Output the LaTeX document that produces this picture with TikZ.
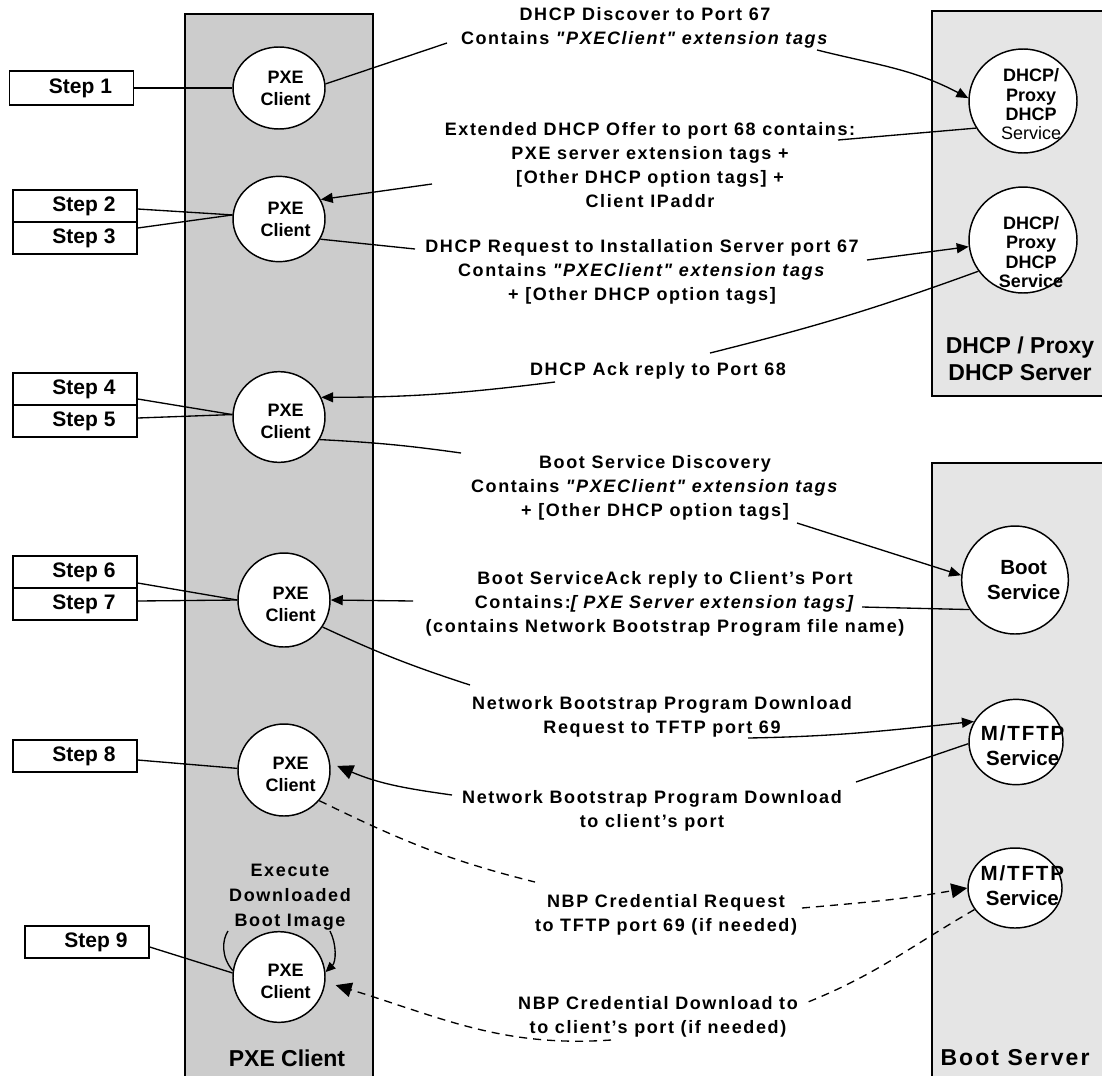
\documentclass[tikz,border=0pt]{standalone}
\usepackage{fontspec}
\setmainfont{Liberation Sans}
\newfontfamily\spacedsans{Liberation Sans}[LetterSpace=9]
\usetikzlibrary{arrows.meta,shapes.geometric}

\definecolor{lanegray}{gray}{0.8}
\definecolor{servergray}{gray}{0.9}

\begin{document}
\begin{tikzpicture}[x=0.75pt,y=-0.75pt,
  lane/.style={draw=black,line width=1.5pt},
  stepbox/.style={draw,line width=1.1pt,minimum width=93pt,minimum height=24pt,inner sep=0pt,
    font=\bfseries\fontsize{15.75}{18}\selectfont},
  station/.style={ellipse,draw,line width=1.1pt,fill=white,inner sep=0pt},
  stationtext/.style={font=\bfseries\fontsize{13.5}{16.5}\selectfont,align=center,inner sep=0pt},
  servicetext/.style={font=\bfseries\fontsize{15.4}{18.75}\selectfont,align=center,inner sep=0pt},
  msg/.style={font=\spacedsans\bfseries\fontsize{13.5}{18}\selectfont,align=center,inner sep=0pt},
  serverlabel/.style={font=\bfseries\fontsize{17.25}{20.25}\selectfont,align=center,inner sep=0pt},
  wire/.style={line width=1pt},
  arr/.style={wire,-{Triangle[length=9pt,width=7.5pt]}},
  bigarr/.style={wire,-{Triangle[length=12pt,width=11pt]}},
  dashwire/.style={wire,dash pattern=on 6pt off 4.5pt},
]
\useasboundingbox (0,0) rectangle (1102,1075);
\fill[white] (0,0) rectangle (1102,1075);

% swim lanes
\begin{scope}
  \clip (0,0) rectangle (1102,1075);
  \draw[lane,fill=lanegray] (185,14) rectangle (373,1090);
  \draw[lane,fill=servergray] (932,11) rectangle (1115,396);
  \draw[lane,fill=servergray] (932,463) rectangle (1115,1090);
\end{scope}

\node[serverlabel] (dhcpsrv) at (1020,358.5) {DHCP / Proxy\\DHCP Server};
\node[serverlabel,font=\spacedsans\bfseries\fontsize{17.25}{20.25}\selectfont] (bootsrv) at (1015,1058) {Boot Server};
\node[serverlabel] (pxesrv) at (287,1058) {PXE Client};

% step boxes
\node[stepbox,minimum height=25.5pt] (s1) at (71.5,88) {\hspace*{13.5pt}Step 1};
\node[stepbox] (s2) at (75,206) {\hspace*{13.5pt}Step 2};
\node[stepbox] (s3) at (75,238) {\hspace*{13.5pt}Step 3};
\node[stepbox] (s4) at (75,389) {\hspace*{13.5pt}Step 4};
\node[stepbox] (s5) at (75,421) {\hspace*{13.5pt}Step 5};
\node[stepbox] (s6) at (75,572) {\hspace*{13.5pt}Step 6};
\node[stepbox] (s7) at (75,604) {\hspace*{13.5pt}Step 7};
\node[stepbox] (s8) at (75,756) {\hspace*{13.5pt}Step 8};
\node[stepbox] (s9) at (87,942) {\hspace*{13.5pt}Step 9};

% PXE client states
\node[station,minimum width=69pt,minimum height=61.5pt] (c1) at (279,88) {};
\node[station,minimum width=69pt,minimum height=64pt] (c2) at (279,219) {};
\node[station,minimum width=69pt,minimum height=68pt] (c3) at (279,417) {};
\node[station,minimum width=69pt,minimum height=70.5pt] (c4) at (284,600) {};
\node[station,minimum width=69pt,minimum height=69pt] (c5) at (284,770) {};
\node[station,minimum width=69pt,minimum height=68pt] (c6) at (279,977) {};
\node[stationtext] (c1t) at ([xshift=5pt]c1.center) {PXE\\Client};
\node[stationtext] (c2t) at ([xshift=5pt]c2.center) {PXE\\Client};
\node[stationtext] (c3t) at ([xshift=5pt,yshift=-3pt]c3.center) {PXE\\Client};
\node[stationtext] (c4t) at ([xshift=5pt,yshift=-3pt]c4.center) {PXE\\Client};
\node[stationtext] (c5t) at ([xshift=5pt,yshift=-3pt]c5.center) {PXE\\Client};
\node[stationtext] (c6t) at ([xshift=5pt,yshift=-3pt]c6.center) {PXE\\Client};

% server side services
\node[station,minimum width=81pt,minimum height=78pt] (e1) at (1023,101) {};
\node[station,minimum width=81pt,minimum height=79.5pt] (e2) at (1023,240) {};
\node[station,minimum width=80pt,minimum height=81pt] (boot) at (1015,580) {};
\node[station,minimum width=70.5pt,minimum height=64pt] (m1) at (1016,742) {};
\node[station,minimum width=70.5pt,minimum height=60pt] (m2) at (1015,888) {};
\node[stationtext,font=\bfseries\fontsize{13.5}{14.5}\selectfont] (e1t) at ([xshift=6pt,yshift=-2.5pt]e1.center)
  {DHCP/\\Proxy\\DHCP\\{\mdseries Service}};
\node[stationtext,font=\bfseries\fontsize{13.5}{14.5}\selectfont] (e2t) at ([xshift=6pt,yshift=-9pt]e2.center)
  {DHCP/\\Proxy\\DHCP\\Service};
\node[servicetext] (boott) at ([xshift=6.5pt]boot.center) {Boot\\Service};
\node[servicetext] (m1t) at ([xshift=5pt,yshift=-2.5pt]m1.center) {{\spacedsans M/TFTP}\\Service};
\node[servicetext] (m2t) at ([xshift=5.5pt,yshift=2pt]m2.center) {{\spacedsans M/TFTP}\\Service};

% messages
\node[msg] (t1) at (645,28) {DHCP Discover to Port 67\\Contains \textit{"PXEClient" extension tags}};
\node[msg] (t2) at (650,165.5) {Extended DHCP Offer to port 68 contains:\\PXE server extension tags +\\{[}Other DHCP option tags{]} +\\Client IPaddr};
\node[msg] (t3) at (642,272) {DHCP Request to Installation Server port 67\\Contains \textit{"PXEClient" extension tags}\\+ {[}Other DHCP option tags{]}};
\node[msg] (t4) at (658,371) {DHCP Ack reply to Port 68};
\node[msg] (t5) at (655,488) {Boot Service Discovery\\Contains \textit{"PXEClient" extension tags}\\+ {[}Other DHCP option tags{]}};
\node[msg] (t6) at (665,604) {Boot ServiceAck reply to Client’s Port\\Contains:\textit{{[} PXE Server extension tags{]}}\\(contains Network Bootstrap Program file name)};
\node[msg] (t7) at (662,716.5) {Network Bootstrap Program Download\\Request to TFTP port 69};
\node[msg] (t8) at (652,810.5) {Network Bootstrap Program Download\\to client’s port};
\node[msg] (t9) at (666,915) {NBP Credential Request\\to TFTP port 69 (if needed)};
\node[msg] (t10) at (658,1017) {NBP Credential Download to\\to client’s port (if needed)};
\node[msg,font=\spacedsans\bfseries\fontsize{13.5}{18.75}\selectfont] (exec) at (290,897) {Execute\\Downloaded\\Boot Image};

% free ends of the message connectors
\coordinate (t1in) at (447,43);
\coordinate (t1out) at (817,50);
\coordinate (t2in) at (838,140);
\coordinate (t2out) at (432,184);
\coordinate (t3in) at (415,249);
\coordinate (t3out) at (867,260);
\coordinate (t4in) at (710,353);
\coordinate (t4out) at (555,382);
\coordinate (t5in) at (461,453);
\coordinate (t5out) at (797,523);
\coordinate (t6in) at (862,607);
\coordinate (t6out) at (413,601);
\coordinate (t7in) at (470,685);
\coordinate (t7out) at (748,738);
\coordinate (t8in) at (856,782);
\coordinate (t8out) at (452,795);
\coordinate (t9in) at (535,882);
\coordinate (t9out) at (802,908);
\coordinate (t10in) at (808,1002);
\coordinate (t10out) at (611,1040);
\coordinate (loopL) at (228,931);
\coordinate (loopR) at (330,931);

% steps to client states
\draw[wire] (s1.east) -- (c1.180);
\draw[wire] ([yshift=-2.25pt]s2.east) -- (c2.175);
\draw[wire] ([yshift=7.5pt]s3.east) -- (c2.175);
\draw[wire] ([yshift=-7.5pt]s4.east) -- (c3.177);
\draw[wire] ([yshift=2.25pt]s5.east) -- (c3.177);
\draw[wire] ([yshift=-8.25pt]s6.east) -- (c4.180);
\draw[wire] ([yshift=2.25pt]s7.east) -- (c4.180);
\draw[wire] ([yshift=-3pt]s8.east) -- (c5.178);
\draw[wire] ([yshift=-3.75pt]s9.east) -- (c6.175);

% DHCP exchange
\draw[wire] (c1.5) -- (t1in);
\draw[arr] (t1out) to[out=-14,in=152] (e1.177);
\draw[wire] (e1.210) -- (t2in);
\draw[arr] (t2out) -- (c2.25);
\draw[wire] (c2.-26) -- (t3in);
\draw[arr] (t3out) -- (e2.187);
\draw[wire] (e2.215) to[out=200,in=14] (t4in);
\draw[arr] (t4out) to[out=187,in=0] (c3.25);

% boot service exchange
\draw[wire] (c3.-29) to[out=-3,in=172] (t5in);
\draw[arr] (t5out) -- (boot.175);
\draw[wire] (boot.213) -- (t6in);
\draw[arr] (t6out) -- (c4.0);

% boot program download
\draw[wire] (c4.-35) to[out=-25,in=162] (t7in);
\draw[arr] (t7out) to[out=1,in=186] (m1.154);
\draw[wire] (m1.182) -- (t8in);
\draw[bigarr] (t8out) to[out=172,in=-23] ([xshift=5pt]c5.5);

% optional credential exchange
\draw[dashwire] (c5.-41) to[out=-26,in=166] (t9in);
\draw[dashwire,-{Triangle[length=12pt,width=11pt]}] (t9out) to[out=5,in=190] (m2.180);
\draw[dashwire] (m2.208) to[out=210,in=22] (t10in);
\draw[dashwire,-{Triangle[length=12pt,width=11pt]}] (t10out) to[out=184,in=-17] ([xshift=8pt]c6.-10);

% execute loop
\draw[wire] (c6.172) .. controls (221,957) and (222,940) .. (loopL);
\draw[wire,-{Triangle[length=7.5pt,width=6.5pt]}] (loopR) .. controls (337,945) and (336,962) .. (c6.6);
\end{tikzpicture}
\end{document}
